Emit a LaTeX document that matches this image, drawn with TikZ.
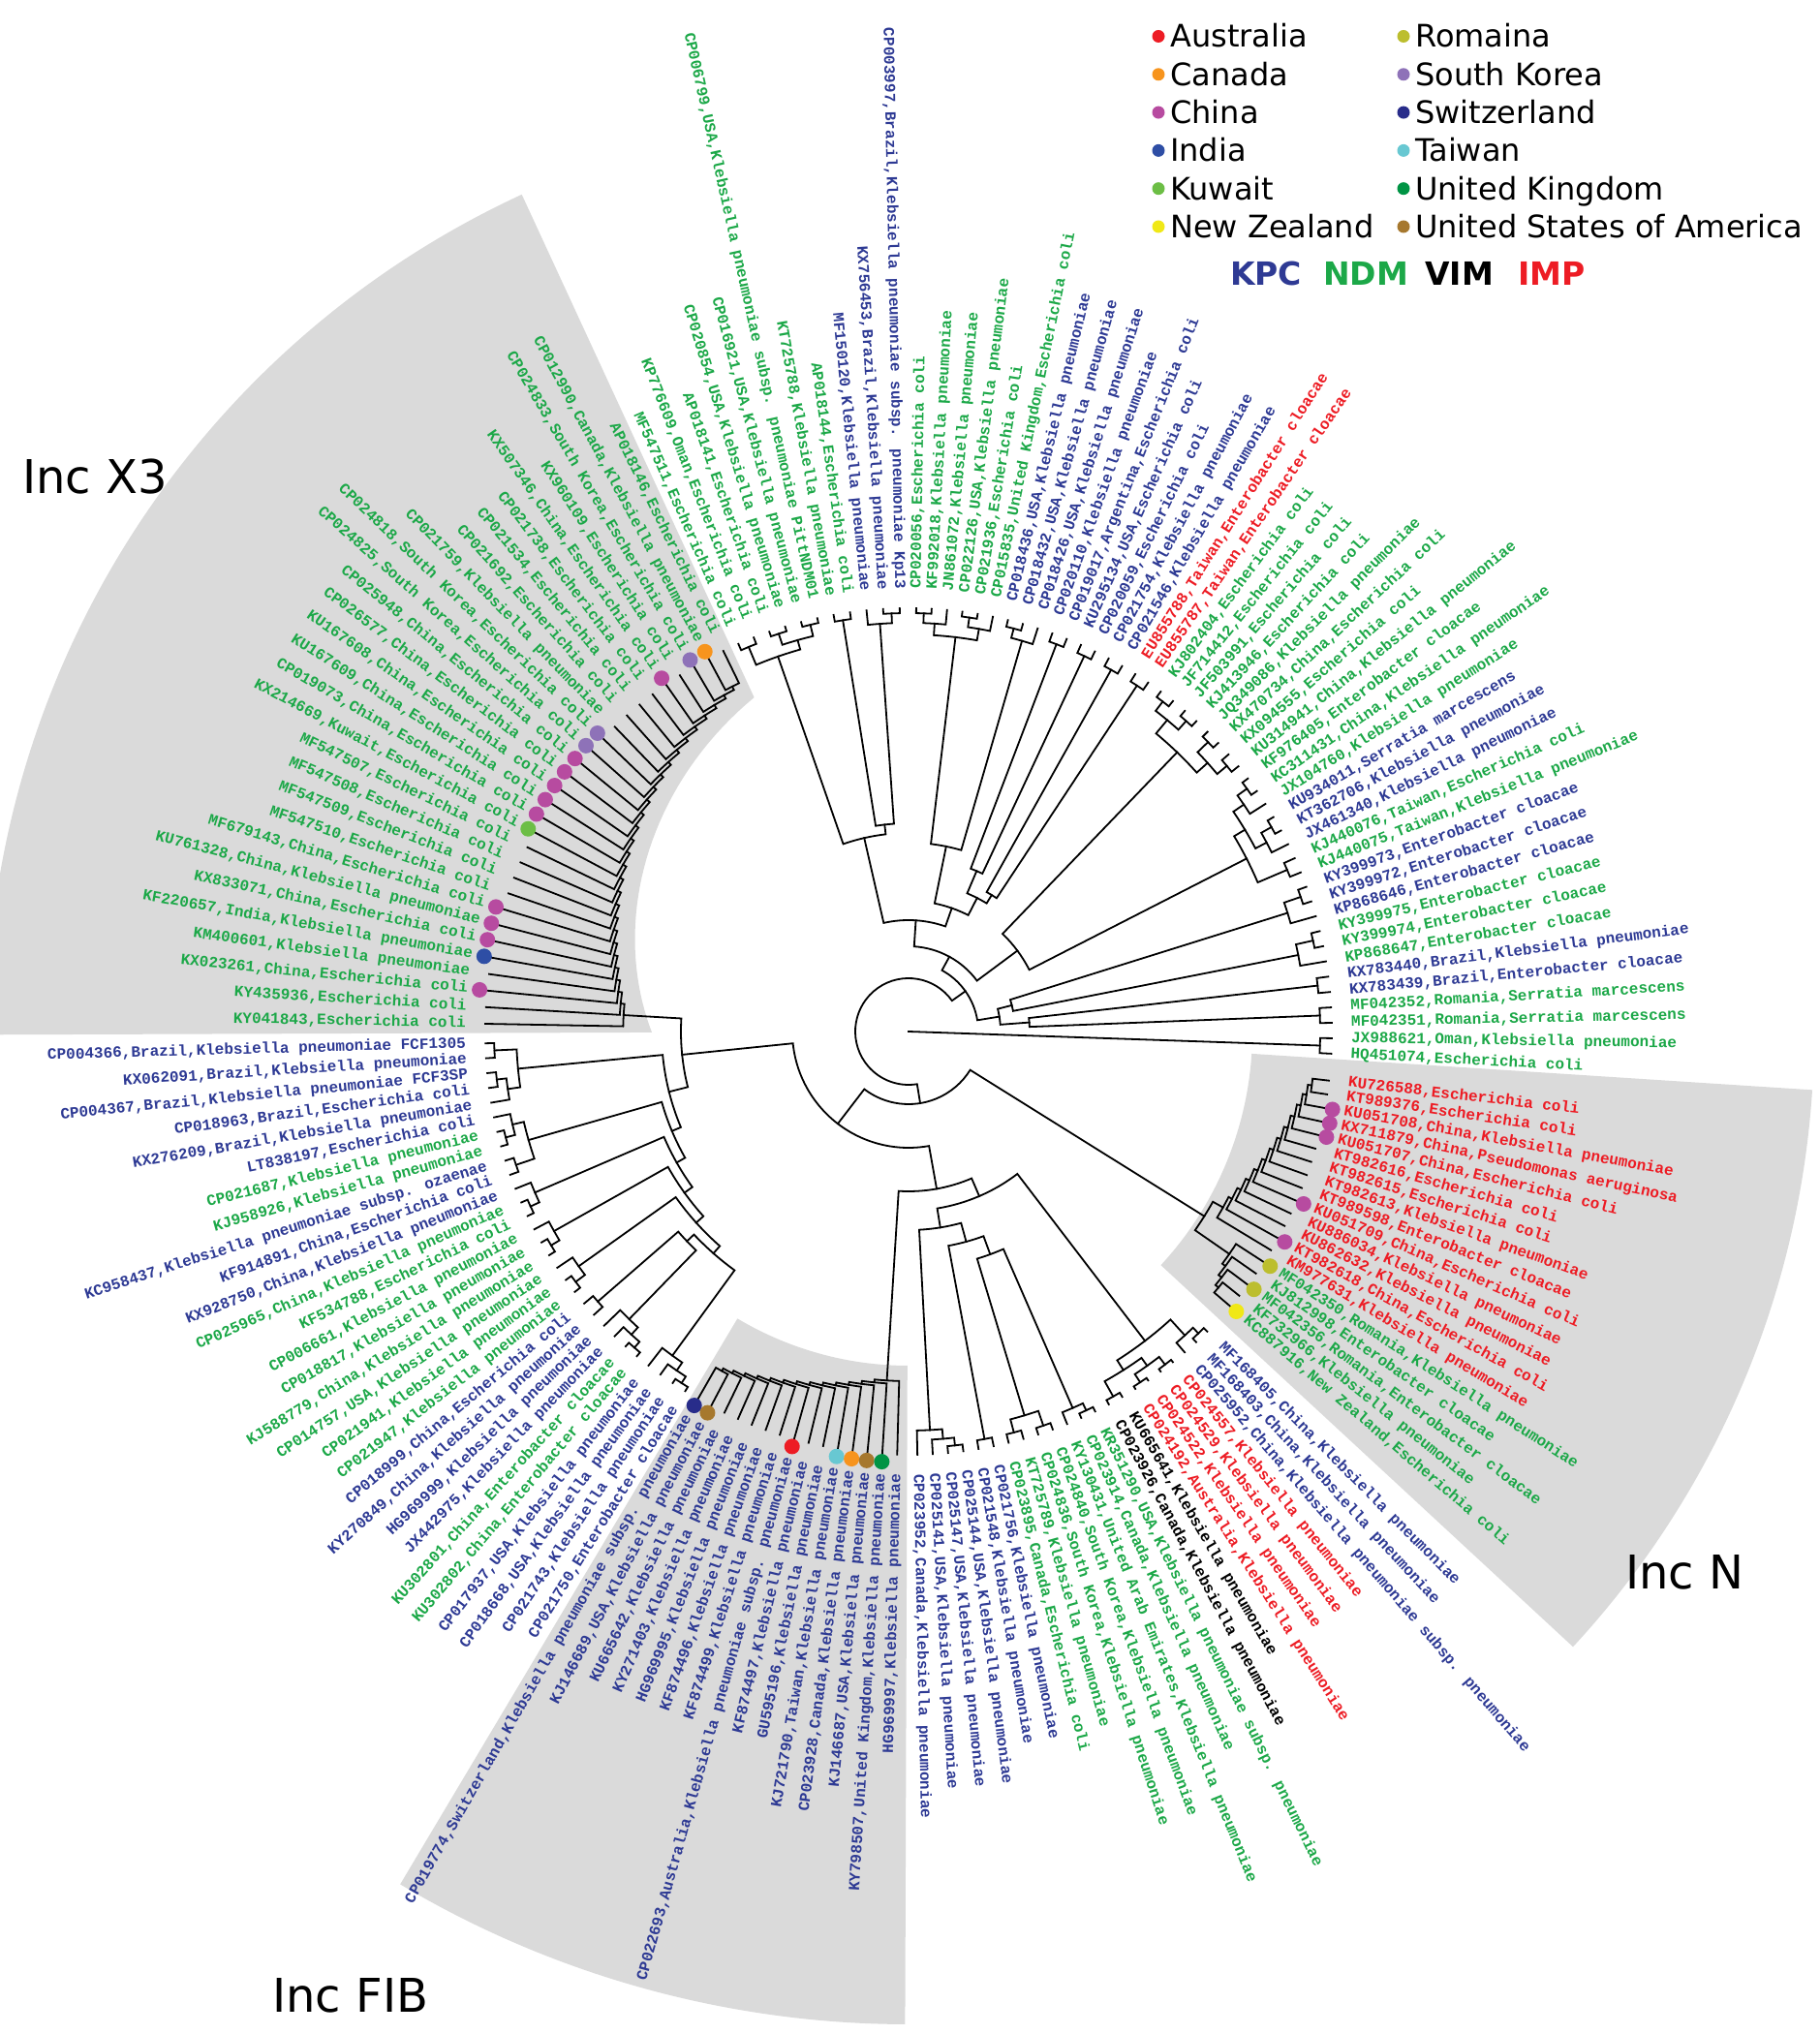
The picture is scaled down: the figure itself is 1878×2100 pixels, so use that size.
\documentclass[tikz,border=0pt]{standalone}
\usepackage{fontspec}
\newfontfamily\lblfont{Liberation Mono}
\newfontfamily\legfont{DejaVu Sans}
\definecolor{kpc}{RGB}{46,58,148}
\definecolor{ndm}{RGB}{28,168,72}
\definecolor{vim}{RGB}{0,0,0}
\definecolor{imp}{RGB}{237,28,36}
\definecolor{incgray}{RGB}{218,218,218}
\definecolor{cAus}{RGB}{237,28,36}
\definecolor{cCan}{RGB}{247,148,29}
\definecolor{cChi}{RGB}{183,75,160}
\definecolor{cInd}{RGB}{46,78,165}
\definecolor{cKuw}{RGB}{108,190,69}
\definecolor{cNZ}{RGB}{240,232,22}
\definecolor{cRom}{RGB}{188,190,46}
\definecolor{cSK}{RGB}{142,114,184}
\definecolor{cSwi}{RGB}{40,44,138}
\definecolor{cTai}{RGB}{104,200,210}
\definecolor{cUK}{RGB}{0,148,68}
\definecolor{cUSA}{RGB}{166,120,46}
% angle of leaf position #1 (fractional positions allowed)
\pgfmathdeclarefunction{ang}{1}{%
  \pgfmathparse{(#1<45.6)*(-3+(#1-1)*2.09)+and(#1>=45.6,#1<85.6)*(91.2+(#1-46)*2.25)+and(#1>=85.6,#1<129.6)*(181.6+(#1-86)*2.02)+and(#1>=129.6,#1<151.6)*(271.2+(#1-130)*2.08)+(#1>=151.6)*(319.5+(#1-152)*1.88)}%
}
\def\rt{437}
\tikzset{
  tree/.style={line width=1.8pt,black,line cap=rect},
  lbl/.style={font=\lblfont\bfseries\fontsize{16}{18}\selectfont,inner sep=0pt,text height=11pt,text depth=3pt},
  leg/.style={font=\legfont\fontsize{32}{36}\selectfont,inner sep=0pt},
  legb/.style={font=\legfont\bfseries\fontsize{33}{36}\selectfont,inner sep=0pt},
  inclbl/.style={font=\legfont\fontsize{48}{52}\selectfont,inner sep=0pt}
}
% node: child (#1,#2) and child (#3,#4) joined on an arc of radius #5
\newcommand{\nd}[5]{\draw[tree] ({ang(#1)}:#2) -- ({ang(#1)}:#5) arc[start angle={ang(#1)},end angle={ang(#3)},radius=#5] -- ({ang(#3)}:#4);}
% ladder from deep leaf #1 to leaf #2, first radius #3, step #4
\newcommand{\ladder}[4]{%
  \pgfmathtruncatemacro\lsg{(#2>#1)?1:-1}%
  \pgfmathtruncatemacro\lb{#1+\lsg}%
  \pgfmathtruncatemacro\lc{#1+2*\lsg}%
  \pgfmathtruncatemacro\ld{#1+3*\lsg}%
  \nd{#1}{\rt}{\lb}{\rt}{#3}%
  \pgfmathsetmacro\lp{#1+0.5*\lsg}%
  \xdef\lpos{\lp}\xdef\lrad{#3}%
  \foreach \k in {\lc,\ld,...,#2}{%
    \pgfmathsetmacro\nr{\lrad-#4}%
    \nd{\lpos}{\lrad}{\k}{\rt}{\nr}%
    \pgfmathsetmacro\np{(\lpos+\k)/2}%
    \xdef\lpos{\np}\xdef\lrad{\nr}%
  }%
}
\begin{document}
\begin{tikzpicture}[x=1pt,y=1pt]
\useasboundingbox (-938,-1035) rectangle (940,1065);
\clip (-938,-1035) rectangle (940,1065);

% shaded Inc groups
\fill[incgray] plot[domain=114.8:180.2,samples=40] (\x:{380-115*(\x-114.8)/65.4}) -- (180.2:952) arc[start angle=180.2,end angle=114.8,radius=952] -- cycle;
\fill[incgray] (317.2:355) arc[start angle=317.2,end angle=356.3,radius=355] -- (356.3:935) arc[start angle=356.3,end angle=317.2,radius=935] -- cycle;
\fill[incgray] (239.2:345) arc[start angle=239.2,end angle=269.8,radius=345] -- (269.8:1025) arc[start angle=269.8,end angle=239.2,radius=1025] -- cycle;

% right block
\draw[tree] (0,0) -- ({ang(1.5)}:425);
\nd{1}{\rt}{2}{\rt}{425}
\nd{3}{\rt}{4}{\rt}{425}
\nd{5}{\rt}{6}{\rt}{425}
\nd{8}{\rt}{9}{\rt}{428}
\nd{7}{\rt}{8.5}{428}{410}
\nd{11}{\rt}{12}{\rt}{428}
\nd{10}{\rt}{11.5}{428}{410}
\nd{3.5}{425}{5.5}{425}{125}
\nd{7.75}{410}{10.75}{410}{110}
\nd{4.5}{125}{9.25}{110}{95}
% upper right
\nd{13}{\rt}{14}{\rt}{425}
\nd{16}{\rt}{17}{\rt}{430}
\nd{15}{\rt}{16.5}{430}{418}
\nd{19}{\rt}{20}{\rt}{430}
\nd{18}{\rt}{19.5}{430}{418}
\nd{15.75}{418}{18.75}{418}{405}
\nd{13.5}{425}{17.25}{405}{392}
\nd{21}{\rt}{22}{\rt}{428}
\nd{23}{\rt}{24}{\rt}{430}
\nd{21.5}{428}{23.5}{430}{415}
\nd{25}{\rt}{26}{\rt}{430}
\nd{27}{\rt}{28}{\rt}{430}
\nd{25.5}{430}{27.5}{430}{418}
\nd{22.5}{415}{26.5}{418}{400}
\nd{15.4}{392}{24.5}{400}{140}
% top
\nd{29}{\rt}{30}{\rt}{428}
\nd{31}{\rt}{32}{\rt}{428}
\nd{33}{\rt}{34}{\rt}{428}
\nd{35}{\rt}{36}{\rt}{428}
\nd{38}{\rt}{39}{\rt}{430}
\nd{37}{\rt}{38.5}{430}{420}
\nd{41}{\rt}{42}{\rt}{432}
\nd{40}{\rt}{41.5}{432}{422}
\nd{44}{\rt}{45}{\rt}{432}
\nd{43}{\rt}{44.5}{432}{422}
\nd{40.75}{422}{43.75}{422}{410}
\nd{29.5}{428}{31.5}{428}{165}
\nd{33.5}{428}{35.5}{428}{180}
\nd{30.5}{165}{34.5}{180}{155}
\nd{37.75}{420}{42.25}{410}{195}
\nd{32.5}{155}{40}{195}{135}
\nd{46}{\rt}{47}{\rt}{432}
\nd{46.5}{432}{48}{\rt}{422}
\nd{49}{\rt}{50}{\rt}{430}
\nd{51}{\rt}{52}{\rt}{432}
\nd{53}{\rt}{54}{\rt}{432}
\nd{51.5}{432}{53.5}{432}{420}
\nd{55}{\rt}{56}{\rt}{430}
\nd{52.5}{420}{55.5}{430}{410}
\nd{47.25}{422}{49.5}{430}{215}
\nd{48.4}{215}{54}{410}{205}
\nd{36.25}{135}{51.2}{205}{115}
\nd{19.95}{140}{43.7}{115}{88}
\nd{6.9}{95}{31.8}{88}{72}
% Inc X3
\ladder{57}{85}{400}{3.9}
\xdef\pXiii{\lpos}\xdef\rXiii{\lrad}
% left block
\nd{86}{\rt}{87}{\rt}{428}
\nd{88}{\rt}{89}{\rt}{428}
\nd{88.5}{428}{90}{\rt}{418}
\nd{86.5}{428}{89.25}{418}{405}
\nd{92}{\rt}{93}{\rt}{430}
\nd{91}{\rt}{92.5}{430}{420}
\nd{94}{\rt}{95}{\rt}{428}
\nd{91.75}{420}{94.5}{428}{408}
\nd{97}{\rt}{98}{\rt}{430}
\nd{96}{\rt}{97.5}{430}{420}
\nd{100}{\rt}{101}{\rt}{430}
\nd{99}{\rt}{100.5}{430}{420}
\nd{103}{\rt}{104}{\rt}{430}
\nd{102}{\rt}{103.5}{430}{418}
\nd{105}{\rt}{106}{\rt}{425}
\nd{109}{\rt}{110}{\rt}{432}
\nd{108}{\rt}{109.5}{432}{424}
\nd{107}{\rt}{108.75}{424}{414}
\nd{113}{\rt}{114}{\rt}{432}
\nd{112}{\rt}{113.5}{432}{424}
\nd{111}{\rt}{112.75}{424}{414}
\nd{105.5}{425}{107.9}{414}{315}
\nd{106.7}{315}{111.9}{414}{305}
\nd{102.75}{418}{109.3}{305}{295}
\nd{99.75}{420}{106}{295}{285}
\nd{96.75}{420}{102.9}{285}{275}
\nd{93.1}{408}{99.8}{275}{265}
\nd{87.9}{405}{96.5}{265}{255}
\nd{\pXiii}{\rXiii}{92.2}{255}{235}
% Inc FIB
\ladder{115}{129}{400}{3}
\xdef\pFIB{\lpos}\xdef\rFIB{\lrad}
% bottom block
\nd{132}{\rt}{133}{\rt}{430}
\nd{131}{\rt}{132.5}{430}{422}
\nd{130}{\rt}{131.75}{422}{412}
\nd{134}{\rt}{135}{\rt}{428}
\nd{136}{\rt}{137}{\rt}{428}
\nd{138}{\rt}{139}{\rt}{430}
\nd{136.5}{428}{138.5}{430}{414}
\nd{141}{\rt}{142}{\rt}{432}
\nd{140}{\rt}{141.5}{432}{424}
\nd{143}{\rt}{144}{\rt}{432}
\nd{145}{\rt}{146}{\rt}{434}
\nd{147}{\rt}{148}{\rt}{434}
\nd{145.5}{434}{147.5}{434}{424}
\nd{143.5}{432}{146.5}{424}{414}
\nd{150}{\rt}{151}{\rt}{432}
\nd{149}{\rt}{150.5}{432}{424}
\nd{145}{414}{149.75}{424}{402}
\nd{137.5}{414}{140.75}{424}{245}
\nd{134.5}{428}{139.1}{245}{225}
\nd{130.9}{412}{136.8}{225}{205}
\nd{133.85}{205}{147.4}{402}{185}
\nd{\pFIB}{\rFIB}{140.6}{185}{165}
\pgfmathsetmacro\pFB{(\pFIB+140.6)/2}
\pgfmathsetmacro\pXL{(\pXiii+92.2)/2}
\nd{\pXL}{235}{\pFB}{165}{120}
\pgfmathsetmacro\pW{(\pXL+\pFB)/2}
% Inc N
\ladder{170}{157}{420}{4}
\xdef\pNu{\lpos}
\ladder{152}{156}{415}{4}
\xdef\pNl{\lpos}
\nd{\pNl}{403}{\pNu}{372}{360}
\pgfmathsetmacro\pN{(\pNu+\pNl)/2}
\nd{\pW}{120}{\pN}{360}{75}
\pgfmathsetmacro\pV{(\pW+\pN)/2}
\nd{19.35}{72}{\pV}{75}{55}

% country dots
\foreach \i/\cc in {58/cCan,59/cSK,61/cChi,66/cSK,67/cSK,68/cChi,69/cChi,70/cChi,71/cChi,72/cChi,73/cKuw,78/cChi,79/cChi,80/cChi,81/cInd,83/cChi,115/cSwi,116/cUSA,122/cAus,125/cTai,126/cCan,127/cUSA,128/cUK,152/cNZ,154/cRom,156/cRom,158/cChi,161/cChi,166/cChi,167/cChi,168/cChi}
  \fill[fill=\cc] ({ang(\i)}:445) circle (8);

% leaf labels
\foreach \col/\txt [count=\i] in {
ndm/{HQ451074,Escherichia coli},
ndm/{JX988621,Oman,Klebsiella pneumoniae},
ndm/{MF042351,Romania,Serratia marcescens},
ndm/{MF042352,Romania,Serratia marcescens},
kpc/{KX783439,Brazil,Enterobacter cloacae},
kpc/{KX783440,Brazil,Klebsiella pneumoniae},
ndm/{KP868647,Enterobacter cloacae},
ndm/{KY399974,Enterobacter cloacae},
ndm/{KY399975,Enterobacter cloacae},
kpc/{KP868646,Enterobacter cloacae},
kpc/{KY399972,Enterobacter cloacae},
kpc/{KY399973,Enterobacter cloacae},
ndm/{KJ440075,Taiwan,Klebsiella pneumoniae},
ndm/{KJ440076,Taiwan,Escherichia coli},
kpc/{JX461340,Klebsiella pneumoniae},
kpc/{KT362706,Klebsiella pneumoniae},
kpc/{KU934011,Serratia marcescens},
ndm/{JX104760,Klebsiella pneumoniae},
ndm/{KC311431,China,Klebsiella pneumoniae},
ndm/{KF976405,Enterobacter cloacae},
ndm/{KU314941,China,Klebsiella pneumoniae},
ndm/{KX094555,Escherichia coli},
ndm/{KX470734,China,Escherichia coli},
ndm/{JQ349086,Klebsiella pneumoniae},
ndm/{KJ413946,Escherichia coli},
ndm/{JF503991,Escherichia coli},
ndm/{JF714412,Escherichia coli},
ndm/{KJ802404,Escherichia coli},
imp/{EU855787,Taiwan,Enterobacter cloacae},
imp/{EU855788,Taiwan,Enterobacter cloacae},
kpc/{CP021546,Klebsiella pneumoniae},
kpc/{CP021754,Klebsiella pneumoniae},
kpc/{CP020059,Escherichia coli},
kpc/{KU295134,USA,Escherichia coli},
kpc/{CP019017,Argentina,Escherichia coli},
kpc/{CP020110,Klebsiella pneumoniae},
kpc/{CP018426,USA,Klebsiella pneumoniae},
kpc/{CP018432,USA,Klebsiella pneumoniae},
kpc/{CP018436,USA,Klebsiella pneumoniae},
ndm/{CP015835,United Kingdom,Escherichia coli},
ndm/{CP021936,Escherichia coli},
ndm/{CP022126,USA,Klebsiella pneumoniae},
ndm/{JN861072,Klebsiella pneumoniae},
ndm/{KF992018,Klebsiella pneumoniae},
ndm/{CP020056,Escherichia coli},
kpc/{CP003997,Brazil,Klebsiella pneumoniae subsp. pneumoniae Kp13},
kpc/{KX756453,Brazil,Klebsiella pneumoniae},
kpc/{MF150120,Klebsiella pneumoniae},
ndm/{AP018144,Escherichia coli},
ndm/{KT725788,Klebsiella pneumoniae},
ndm/{CP006799,USA,Klebsiella pneumoniae subsp. pneumoniae PittNDM01},
ndm/{CP016921,USA,Klebsiella pneumoniae},
ndm/{CP020854,USA,Klebsiella pneumoniae},
ndm/{AP018141,Escherichia coli},
ndm/{KP776609,Oman,Escherichia coli},
ndm/{MF547511,Escherichia coli},
ndm/{AP018146,Escherichia coli},
ndm/{CP012990,Canada,Klebsiella pneumoniae},
ndm/{CP024833,South Korea,Escherichia coli},
ndm/{KX960109,Escherichia coli},
ndm/{KX507346,China,Escherichia coli},
ndm/{CP021738,Escherichia coli},
ndm/{CP021534,Escherichia coli},
ndm/{CP021692,Escherichia coli},
ndm/{CP021759,Klebsiella pneumoniae},
ndm/{CP024818,South Korea,Escherichia coli},
ndm/{CP024825,South Korea,Escherichia coli},
ndm/{CP025948,China,Escherichia coli},
ndm/{CP026577,China,Escherichia coli},
ndm/{KU167608,China,Escherichia coli},
ndm/{KU167609,China,Escherichia coli},
ndm/{CP019073,China,Escherichia coli},
ndm/{KX214669,Kuwait,Escherichia coli},
ndm/{MF547507,Escherichia coli},
ndm/{MF547508,Escherichia coli},
ndm/{MF547509,Escherichia coli},
ndm/{MF547510,Escherichia coli},
ndm/{MF679143,China,Escherichia coli},
ndm/{KU761328,China,Klebsiella pneumoniae},
ndm/{KX833071,China,Escherichia coli},
ndm/{KF220657,India,Klebsiella pneumoniae},
ndm/{KM400601,Klebsiella pneumoniae},
ndm/{KX023261,China,Escherichia coli},
ndm/{KY435936,Escherichia coli},
ndm/{KY041843,Escherichia coli},
kpc/{CP004366,Brazil,Klebsiella pneumoniae FCF1305},
kpc/{KX062091,Brazil,Klebsiella pneumoniae},
kpc/{CP004367,Brazil,Klebsiella pneumoniae FCF3SP},
kpc/{CP018963,Brazil,Escherichia coli},
kpc/{KX276209,Brazil,Klebsiella pneumoniae},
kpc/{LT838197,Escherichia coli},
ndm/{CP021687,Klebsiella pneumoniae},
ndm/{KJ958926,Klebsiella pneumoniae},
kpc/{KC958437,Klebsiella pneumoniae subsp. ozaenae},
kpc/{KF914891,China,Escherichia coli},
kpc/{KX928750,China,Klebsiella pneumoniae},
ndm/{CP025965,China,Klebsiella pneumoniae},
ndm/{KF534788,Escherichia coli},
ndm/{CP006661,Klebsiella pneumoniae},
ndm/{CP018817,Klebsiella pneumoniae},
ndm/{KJ588779,China,Klebsiella pneumoniae},
ndm/{CP014757,USA,Klebsiella pneumoniae},
ndm/{CP021941,Klebsiella pneumoniae},
ndm/{CP021947,Klebsiella pneumoniae},
kpc/{CP018999,China,Escherichia coli},
kpc/{KY270849,China,Klebsiella pneumoniae},
kpc/{HG969999,Klebsiella pneumoniae},
kpc/{JX442975,Klebsiella pneumoniae},
ndm/{KU302801,China,Enterobacter cloacae},
ndm/{KU302802,China,Enterobacter cloacae},
kpc/{CP017937,USA,Klebsiella pneumoniae},
kpc/{CP018668,USA,Klebsiella pneumoniae},
kpc/{CP021743,Klebsiella pneumoniae},
kpc/{CP021750,Enterobacter cloacae},
kpc/{CP019774,Switzerland,Klebsiella pneumoniae subsp. pneumoniae},
kpc/{KJ146689,USA,Klebsiella pneumoniae},
kpc/{KU665642,Klebsiella pneumoniae},
kpc/{KY271403,Klebsiella pneumoniae},
kpc/{HG969995,Klebsiella pneumoniae},
kpc/{KF874496,Klebsiella pneumoniae},
kpc/{KF874499,Klebsiella pneumoniae},
kpc/{CP022693,Australia,Klebsiella pneumoniae subsp. pneumoniae},
kpc/{KF874497,Klebsiella pneumoniae},
kpc/{GU595196,Klebsiella pneumoniae},
kpc/{KJ721790,Taiwan,Klebsiella pneumoniae},
kpc/{CP023928,Canada,Klebsiella pneumoniae},
kpc/{KJ146687,USA,Klebsiella pneumoniae},
kpc/{KY798507,United Kingdom,Klebsiella pneumoniae},
kpc/{HG969997,Klebsiella pneumoniae},
kpc/{CP023952,Canada,Klebsiella pneumoniae},
kpc/{CP025141,USA,Klebsiella pneumoniae},
kpc/{CP025147,USA,Klebsiella pneumoniae},
kpc/{CP025144,USA,Klebsiella pneumoniae},
kpc/{CP021548,Klebsiella pneumoniae},
kpc/{CP021756,Klebsiella pneumoniae},
ndm/{CP023895,Canada,Escherichia coli},
ndm/{KT725789,Klebsiella pneumoniae},
ndm/{CP024836,South Korea,Klebsiella pneumoniae},
ndm/{CP024840,South Korea,Klebsiella pneumoniae},
ndm/{KY130431,United Arab Emirates,Klebsiella pneumoniae},
ndm/{CP023914,Canada,Klebsiella pneumoniae},
ndm/{KR351290,USA,Klebsiella pneumoniae subsp. pneumoniae},
vim/{CP023926,Canada,Klebsiella pneumoniae},
vim/{KU665641,Klebsiella pneumoniae},
imp/{CP024192,Australia,Klebsiella pneumoniae},
imp/{CP024522,Klebsiella pneumoniae},
imp/{CP024529,Klebsiella pneumoniae},
imp/{CP024557,Klebsiella pneumoniae},
kpc/{CP025952,China,Klebsiella pneumoniae subsp. pneumoniae},
kpc/{MF168403,China,Klebsiella pneumoniae},
kpc/{MF168405,China,Klebsiella pneumoniae},
ndm/{KC887916,New Zealand,Escherichia coli},
ndm/{KF732966,Klebsiella pneumoniae},
ndm/{MF042356,Romania,Enterobacter cloacae},
ndm/{KJ812998,Enterobacter cloacae},
ndm/{MF042350,Romania,Klebsiella pneumoniae},
imp/{KM977631,Klebsiella pneumoniae},
imp/{KT982618,China,Escherichia coli},
imp/{KU862632,Klebsiella pneumoniae},
imp/{KU886034,Klebsiella pneumoniae},
imp/{KU051709,China,Escherichia coli},
imp/{KT989598,Enterobacter cloacae},
imp/{KT982613,Klebsiella pneumoniae},
imp/{KT982615,Escherichia coli},
imp/{KT982616,Escherichia coli},
imp/{KU051707,China,Escherichia coli},
imp/{KX711879,China,Pseudomonas aeruginosa},
imp/{KU051708,China,Klebsiella pneumoniae},
imp/{KT989376,Escherichia coli},
imp/{KU726588,Escherichia coli}}{
  \pgfmathsetmacro\lang{ang(\i)}
  \pgfmathtruncatemacro\lft{(\lang>90)&&(\lang<270)}
  \ifnum\lft=1
    \node[lbl,text=\col,rotate=\lang+180,anchor=east] (lf\i) at (\lang:457) {\txt};
  \else
    \node[lbl,text=\col,rotate=\lang,anchor=west] (lf\i) at (\lang:457) {\txt};
  \fi
}

% legend
\foreach \cc/\nm [count=\r] in {cAus/Australia,cCan/Canada,cChi/China,cInd/India,cKuw/Kuwait,cNZ/New Zealand}{
  \pgfmathsetmacro\yy{1066.8-39.3*\r}
  \fill[fill=\cc] (258,\yy) circle (6.5);
  \node[leg,anchor=base west] (legA\r) at (270,\yy-11.5) {\nm};
}
\foreach \cc/\nm [count=\r] in {cRom/Romaina,cSK/South Korea,cSwi/Switzerland,cTai/Taiwan,cUK/United Kingdom,cUSA/United States of America}{
  \pgfmathsetmacro\yy{1066.8-39.3*\r}
  \fill[fill=\cc] (511,\yy) circle (6.5);
  \node[leg,anchor=base west] (legB\r) at (523,\yy-11.5) {\nm};
}
\node[legb,text=kpc,anchor=base west] (kpcKey) at (332,770) {KPC};
\node[legb,text=ndm,anchor=base west] (ndmKey) at (428,770) {NDM};
\node[legb,text=vim,anchor=base west] (vimKey) at (533,770) {VIM};
\node[legb,text=imp,anchor=base west] (impKey) at (629,770) {IMP};

% group names
\node[inclbl,anchor=base west] (incX3) at (-915,555) {Inc X3};
\node[inclbl,anchor=base west] (incN) at (740,-575) {Inc N};
\node[inclbl,anchor=base west] (incFIB) at (-657,-1012) {Inc FIB};
\end{tikzpicture}
\end{document}
